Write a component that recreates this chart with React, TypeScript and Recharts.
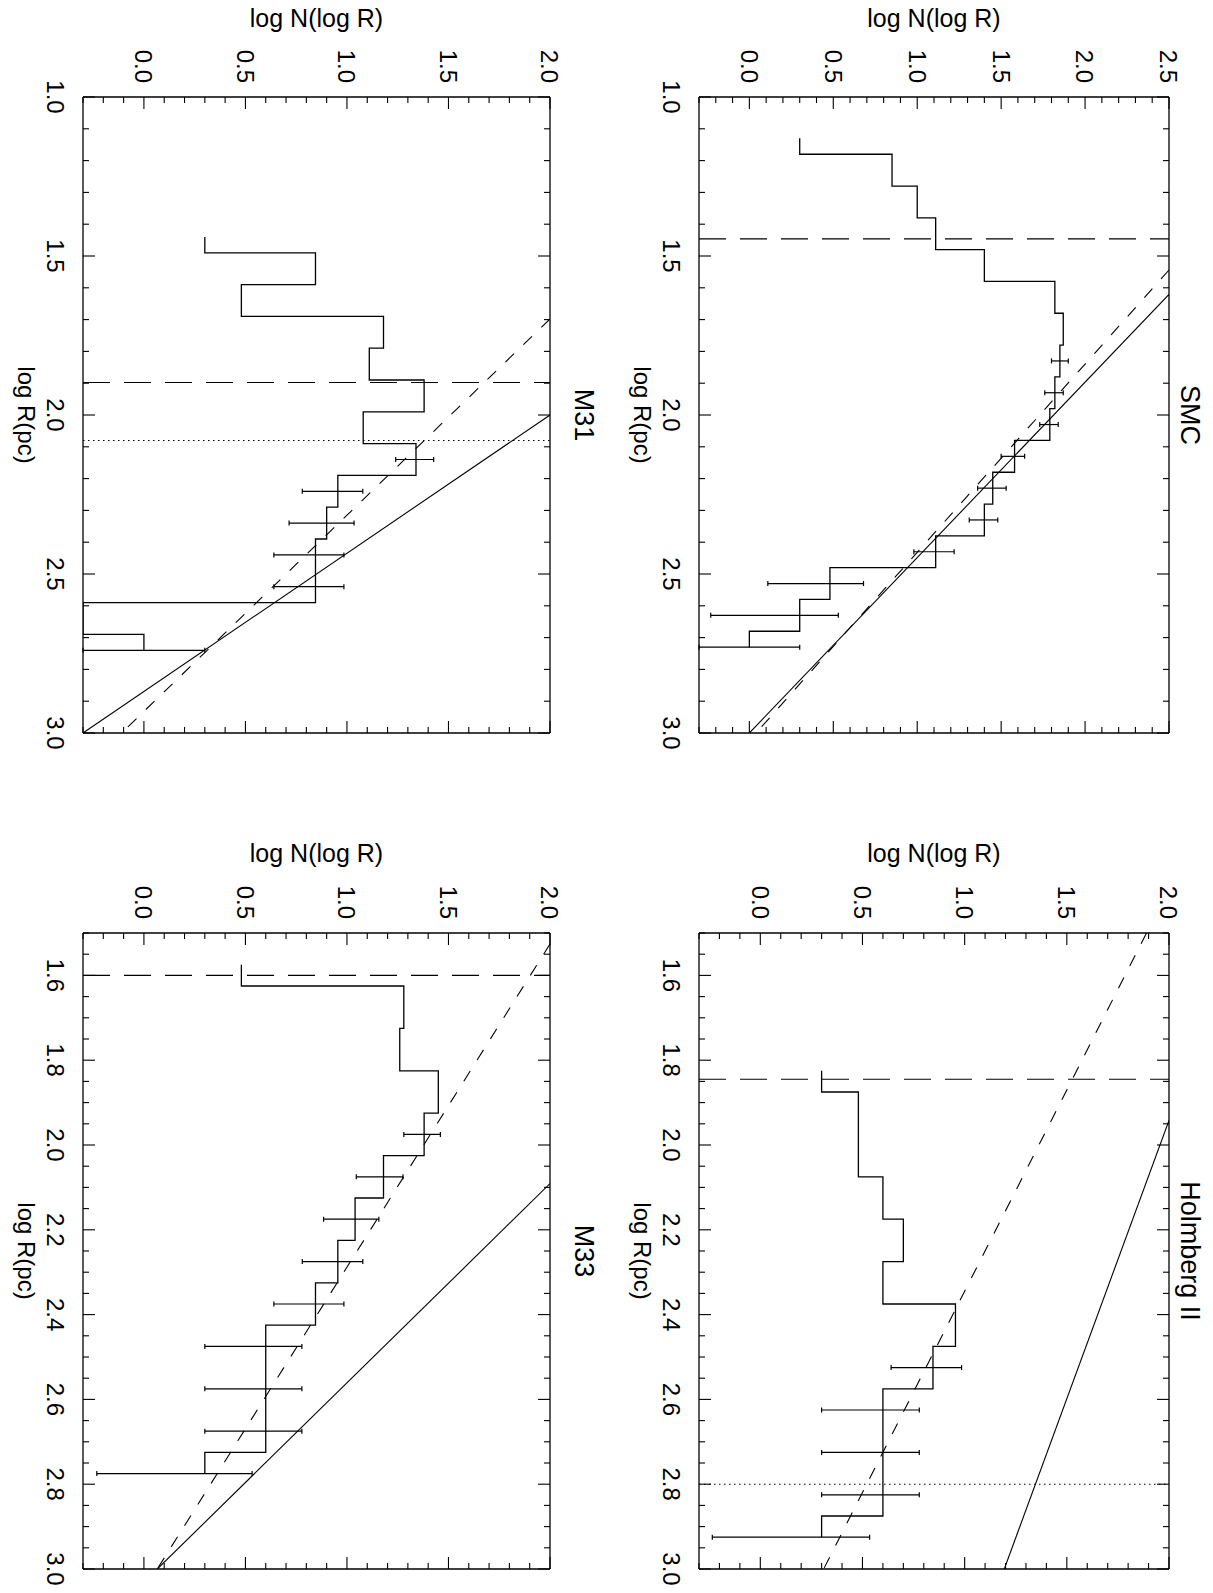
import React from 'react';
import { ComposedChart, Line, Scatter, ErrorBar, XAxis, YAxis, ReferenceLine } from 'recharts';

// ---------------- data (log R in pc, log N(log R)) ----------------
// SMC
const smcR = [1.13, 1.23, 1.33, 1.43, 1.53, 1.63, 1.73, 1.83, 1.93, 2.03, 2.13, 2.23, 2.33, 2.43, 2.53, 2.63, 2.73];
const smcN = [0.30, 0.85, 1.00, 1.11, 1.40, 1.82, 1.87, 1.85, 1.82, 1.79, 1.58, 1.45, 1.40, 1.11, 0.48, 0.30, 0.00];
const smcErrR = [1.83, 1.93, 2.03, 2.13, 2.23, 2.33, 2.43, 2.53, 2.63, 2.73];
const smcErrMid = [1.85, 1.82, 1.79, 1.58, 1.45, 1.40, 1.11, 0.48, 0.30, 0.00];
const smcErrLo = [1.80, 1.76, 1.73, 1.50, 1.36, 1.31, 0.98, 0.11, -0.23, -0.30];
const smcErrHi = [1.90, 1.87, 1.84, 1.64, 1.53, 1.48, 1.22, 0.68, 0.53, 0.30];
const smcSolidR = [1.621, 3.0];
const smcSolidN = [2.5, 0.0];
const smcDashR = [1.544, 3.0];
const smcDashN = [2.5, 0.04];
const smcLongDash = [1.446];
const smcDotted: number[] = [];

// Holmberg II
const hoR = [1.825, 1.925, 2.025, 2.125, 2.225, 2.325, 2.425, 2.525, 2.625, 2.725, 2.825, 2.925];
const hoN = [0.30, 0.48, 0.48, 0.60, 0.70, 0.60, 0.955, 0.845, 0.60, 0.60, 0.60, 0.30];
const hoErrR = [2.525, 2.625, 2.725, 2.825, 2.925];
const hoErrMid = [0.845, 0.60, 0.60, 0.60, 0.30];
const hoErrLo = [0.64, 0.30, 0.30, 0.30, -0.235];
const hoErrHi = [0.985, 0.778, 0.778, 0.778, 0.535];
const hoSolidR = [1.942, 3.0];
const hoSolidN = [2.0, 1.194];
const hoDashR = [1.5, 3.0];
const hoDashN = [1.89, 0.31];
const hoLongDash = [1.845];
const hoDotted = [2.8];

// M31
const m31R = [1.44, 1.54, 1.64, 1.74, 1.84, 1.94, 2.04, 2.14, 2.24, 2.34, 2.44, 2.54, 2.64, 2.74];
const m31N = [0.30, 0.845, 0.48, 1.18, 1.11, 1.38, 1.08, 1.34, 0.955, 0.90, 0.845, 0.845, -0.30, 0.00];
const m31ErrR = [2.14, 2.24, 2.34, 2.44, 2.54, 2.74];
const m31ErrMid = [1.34, 0.955, 0.90, 0.845, 0.845, 0.00];
const m31ErrLo = [1.24, 0.78, 0.715, 0.64, 0.64, -0.30];
const m31ErrHi = [1.427, 1.078, 1.035, 0.985, 0.985, 0.30];
const m31SolidR = [2.0, 3.0];
const m31SolidN = [2.0, -0.30];
const m31DashR = [1.698, 3.0];
const m31DashN = [2.0, -0.11];
const m31LongDash = [1.898];
const m31Dotted = [2.08];

// M33
const m33R = [1.575, 1.675, 1.775, 1.875, 1.975, 2.075, 2.175, 2.275, 2.375, 2.475, 2.575, 2.675, 2.775];
const m33N = [0.48, 1.28, 1.26, 1.45, 1.38, 1.18, 1.04, 0.955, 0.845, 0.60, 0.60, 0.60, 0.30];
const m33ErrR = [1.975, 2.075, 2.175, 2.275, 2.375, 2.475, 2.575, 2.675, 2.775];
const m33ErrMid = [1.38, 1.18, 1.04, 0.955, 0.845, 0.60, 0.60, 0.60, 0.30];
const m33ErrLo = [1.28, 1.046, 0.885, 0.78, 0.64, 0.30, 0.30, 0.30, -0.232];
const m33ErrHi = [1.46, 1.276, 1.157, 1.078, 0.985, 0.778, 0.778, 0.778, 0.533];
const m33SolidR = [2.091, 3.0];
const m33SolidN = [2.0, 0.066];
const m33DashR = [1.526, 3.0];
const m33DashN = [2.0, 0.066];
const m33LongDash = [1.6];
const m33Dotted: number[] = [];

// axis ticks
const rMajorTop = [1.0, 1.5, 2.0, 2.5, 3.0];
const rMajorBottom = [1.6, 1.8, 2.0, 2.2, 2.4, 2.6, 2.8, 3.0];
const nMajorSMC = [0.0, 0.5, 1.0, 1.5, 2.0, 2.5];
const nMajor = [0.0, 0.5, 1.0, 1.5, 2.0];

const steps = (a: number, b: number, d: number) => {
  const out: number[] = [];
  const n = Math.round((b - a) / d);
  for (let i = 0; i <= n; i++) out.push(Math.round((a + i * d) * 1000) / 1000);
  return out;
};

// ---------------- layout (landscape frame, later rotated 90deg) ----------------
const LW = 1593;
const LH = 1213;
const FONT = '"Liberation Sans", Arial, Helvetica, sans-serif';
const TICK_FS = 24;
const MAJOR_LEN = 12;
const MINOR_LEN = 6;

type Side = 'bottom' | 'top' | 'left' | 'right';

const makeTick = (side: Side, majors: number[], labels: boolean) => (props: any) => {
  const x = Number(props.x);
  const y = Number(props.y);
  const v = Number(props.payload && props.payload.value);
  const major = majors.some((m) => Math.abs(m - v) < 1e-6);
  const len = major ? MAJOR_LEN : MINOR_LEN;
  let x2 = x;
  let y2 = y;
  if (side === 'bottom') y2 = y - len;
  else if (side === 'top') y2 = y + len;
  else if (side === 'left') x2 = x + len;
  else x2 = x - len;
  let label: React.ReactNode = null;
  if (labels && major) {
    if (side === 'bottom') {
      label = (
        <text x={x} y={y + 36} textAnchor="middle" fontSize={TICK_FS} fontFamily={FONT} fill="#000">
          {v.toFixed(1)}
        </text>
      );
    } else if (side === 'left') {
      label = (
        <text x={x - 14} y={y} dy="0.36em" textAnchor="end" fontSize={TICK_FS} fontFamily={FONT} fill="#000">
          {v.toFixed(1)}
        </text>
      );
    }
  }
  return (
    <g>
      <line x1={x} y1={y} x2={x2} y2={y2} stroke="#000" strokeWidth={1.1} />
      {label}
    </g>
  );
};

type PanelDef = {
  key: string;
  title: string;
  rect: [number, number, number, number]; // u0, v0, u1, v1
  xDom: [number, number];
  yDom: [number, number];
  xMaj: number[];
  xTicks: number[];
  yMaj: number[];
  yTicks: number[];
  histR: number[];
  histN: number[];
  errR: number[];
  errMid: number[];
  errLo: number[];
  errHi: number[];
  solidR: number[];
  solidN: number[];
  dashR: number[];
  dashN: number[];
  longDash: number[];
  dotted: number[];
};

const panels: PanelDef[] = [
  {
    key: 'smc', title: 'SMC', rect: [97, 44, 733, 514], xDom: [1.0, 3.0], yDom: [-0.3, 2.5],
    xMaj: rMajorTop, xTicks: steps(1.0, 3.0, 0.1), yMaj: nMajorSMC, yTicks: steps(-0.3, 2.5, 0.1),
    histR: smcR, histN: smcN, errR: smcErrR, errMid: smcErrMid, errLo: smcErrLo, errHi: smcErrHi,
    solidR: smcSolidR, solidN: smcSolidN, dashR: smcDashR, dashN: smcDashN, longDash: smcLongDash, dotted: smcDotted,
  },
  {
    key: 'ho', title: 'Holmberg II', rect: [933, 44, 1569, 514], xDom: [1.5, 3.0], yDom: [-0.3, 2.0],
    xMaj: rMajorBottom, xTicks: steps(1.5, 3.0, 0.05), yMaj: nMajor, yTicks: steps(-0.3, 2.0, 0.1),
    histR: hoR, histN: hoN, errR: hoErrR, errMid: hoErrMid, errLo: hoErrLo, errHi: hoErrHi,
    solidR: hoSolidR, solidN: hoSolidN, dashR: hoDashR, dashN: hoDashN, longDash: hoLongDash, dotted: hoDotted,
  },
  {
    key: 'm31', title: 'M31', rect: [97, 663, 733, 1130], xDom: [1.0, 3.0], yDom: [-0.3, 2.0],
    xMaj: rMajorTop, xTicks: steps(1.0, 3.0, 0.1), yMaj: nMajor, yTicks: steps(-0.3, 2.0, 0.1),
    histR: m31R, histN: m31N, errR: m31ErrR, errMid: m31ErrMid, errLo: m31ErrLo, errHi: m31ErrHi,
    solidR: m31SolidR, solidN: m31SolidN, dashR: m31DashR, dashN: m31DashN, longDash: m31LongDash, dotted: m31Dotted,
  },
  {
    key: 'm33', title: 'M33', rect: [933, 663, 1569, 1130], xDom: [1.5, 3.0], yDom: [-0.3, 2.0],
    xMaj: rMajorBottom, xTicks: steps(1.5, 3.0, 0.05), yMaj: nMajor, yTicks: steps(-0.3, 2.0, 0.1),
    histR: m33R, histN: m33N, errR: m33ErrR, errMid: m33ErrMid, errLo: m33ErrLo, errHi: m33ErrHi,
    solidR: m33SolidR, solidN: m33SolidN, dashR: m33DashR, dashN: m33DashN, longDash: m33LongDash, dotted: m33Dotted,
  },
];

const zip = (rs: number[], ns: number[]) => rs.map((r, i) => ({ r, n: ns[i] }));

const Panel = ({ p }: { p: PanelDef }) => {
  const [u0, v0, u1, v1] = p.rect;
  const hist = zip(p.histR, p.histN);
  const err = p.errR.map((r, i) => ({ r, n: p.errMid[i], e: [p.errMid[i] - p.errLo[i], p.errHi[i] - p.errMid[i]] }));
  const solid = zip(p.solidR, p.solidN);
  const dash = zip(p.dashR, p.dashN);
  const axisLine = { stroke: '#000', strokeWidth: 1.3 };
  return (
    <div style={{ position: 'absolute', left: 0, top: 0 }}>
      <ComposedChart
        width={LW}
        height={LH}
        margin={{ left: u0 - 1, right: LW - u1 - 1, top: v0 - 1, bottom: LH - v1 - 1 }}
      >
        <XAxis xAxisId="b" orientation="bottom" type="number" dataKey="r" domain={p.xDom} allowDataOverflow
          ticks={p.xTicks} interval={0} height={1} tickSize={0} tickMargin={0} tickLine={false}
          axisLine={axisLine} tick={makeTick('bottom', p.xMaj, true)} />
        <XAxis xAxisId="t" orientation="top" type="number" dataKey="r" domain={p.xDom} allowDataOverflow
          ticks={p.xTicks} interval={0} height={1} tickSize={0} tickMargin={0} tickLine={false}
          axisLine={axisLine} tick={makeTick('top', p.xMaj, false)} />
        <YAxis yAxisId="l" orientation="left" type="number" dataKey="n" domain={p.yDom} allowDataOverflow
          ticks={p.yTicks} interval={0} width={1} tickSize={0} tickMargin={0} tickLine={false}
          axisLine={axisLine} tick={makeTick('left', p.yMaj, true)} />
        <YAxis yAxisId="r" orientation="right" type="number" dataKey="n" domain={p.yDom} allowDataOverflow
          ticks={p.yTicks} interval={0} width={1} tickSize={0} tickMargin={0} tickLine={false}
          axisLine={axisLine} tick={makeTick('right', p.yMaj, false)} />

        {p.longDash.map((x) => (
          <ReferenceLine key={'ld' + x} x={x} xAxisId="b" yAxisId="l" stroke="#000" strokeWidth={1.1} strokeDasharray="27 14" />
        ))}
        {p.dotted.map((x) => (
          <ReferenceLine key={'dt' + x} x={x} xAxisId="b" yAxisId="l" stroke="#000" strokeWidth={1.1} strokeDasharray="1.5 3.5" />
        ))}

        <Line xAxisId="b" yAxisId="l" data={hist} dataKey="n" type="step" stroke="#000" strokeWidth={1.3}
          dot={false} activeDot={false} isAnimationActive={false} />
        <Line xAxisId="b" yAxisId="l" data={solid} dataKey="n" type="linear" stroke="#000" strokeWidth={1.1}
          dot={false} activeDot={false} isAnimationActive={false} />
        <Line xAxisId="b" yAxisId="l" data={dash} dataKey="n" type="linear" stroke="#000" strokeWidth={1.1}
          strokeDasharray="12 13" dot={false} activeDot={false} isAnimationActive={false} />
        <Scatter xAxisId="b" yAxisId="l" data={err} dataKey="n" isAnimationActive={false} shape={() => <g />}>
          <ErrorBar dataKey="e" direction="y" width={2.5} stroke="#000" strokeWidth={1.2} isAnimationActive={false} />
        </Scatter>
      </ComposedChart>
    </div>
  );
};

// text placements in the landscape frame
const titleBaseline: Record<string, number> = { smc: 32, ho: 32, m31: 638, m33: 638 };
const rLabelBaseline: Record<string, number> = { smc: 579, ho: 579, m31: 1195, m33: 1195 };
const nLabelBaseline: Record<string, number> = { smc: 27, ho: 862, m31: 27, m33: 862 };

const Texts = () => (
  <svg width={LW} height={LH} style={{ position: 'absolute', left: 0, top: 0 }}>
    {panels.map((p) => {
      const [u0, v0, u1, v1] = p.rect;
      const uc = (u0 + u1) / 2;
      const vc = (v0 + v1) / 2;
      const nb = nLabelBaseline[p.key];
      return (
        <g key={p.key} fontFamily={FONT} fill="#000">
          <text x={uc} y={titleBaseline[p.key]} textAnchor="middle" fontSize={27}>{p.title}</text>
          <text x={uc} y={rLabelBaseline[p.key]} textAnchor="middle" fontSize={24}>log R(pc)</text>
          <text x={nb} y={vc} textAnchor="middle" fontSize={25} transform={`rotate(-90 ${nb} ${vc})`}>
            log N(log R)
          </text>
        </g>
      );
    })}
  </svg>
);

export default function App() {
  return (
    <div style={{ position: 'absolute', left: 0, top: 0, width: 1213, height: 1593, overflow: 'hidden', background: '#fff' }}>
      <div
        style={{
          position: 'absolute', left: 0, top: 0, width: LW, height: LH,
          transformOrigin: '0 0', transform: 'translateX(1213px) rotate(90deg)',
        }}
      >
        {panels.map((p) => (
          <Panel key={p.key} p={p} />
        ))}
        <Texts />
      </div>
    </div>
  );
}
